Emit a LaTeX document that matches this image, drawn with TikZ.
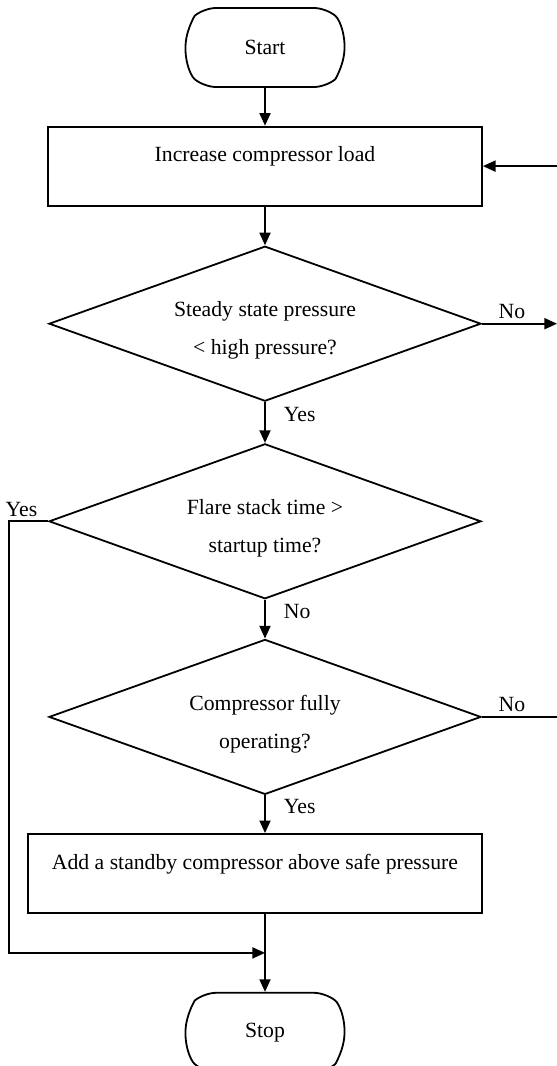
\documentclass[tikz,border=0pt]{standalone}
\usepackage{fontspec}
\setmainfont{Liberation Serif}
\usepackage{tikz}
\usetikzlibrary{shapes,arrows.meta,positioning}

% pushes the two lines of a decision a little down
\newcommand{\dstrut}{\rule{0pt}{14.5pt}}

\begin{document}
\begin{tikzpicture}[
    every node/.style={font=\fontsize{10.85}{19}\selectfont},
    term/.style={rounded rectangle, rounded rectangle arc length=100, draw,
                 rounded corners=6pt, line width=0.9pt, minimum width=79.5pt,
                 minimum height=39.5pt, inner sep=0pt},
    process/.style={rectangle, draw, line width=0.9pt, minimum height=39.5pt,
                    inner sep=0pt, text height=7.5pt, text depth=12pt},
    decision/.style={diamond, draw, line width=0.9pt, aspect=2.8,
                     minimum width=216pt, minimum height=77.5pt,
                     inner sep=0pt, align=center},
    arrow/.style={->, line width=0.9pt, >={Triangle[length=6.3pt,width=5.5pt]}},
    line/.style={line width=0.9pt},
    lbl/.style={inner sep=2pt},
    node distance=19.4pt
]
\useasboundingbox (0,0) rectangle (278.5pt,-533pt);
\clip (0,0) rectangle (278.5pt,-533pt);

\node[term] (start) at (132.5pt,-23.75pt) {Start};
\node[process, minimum width=217pt, below=18.9pt of start] (load)
  {Increase compressor load};
\node[decision, below=of load] (steady)
  {\dstrut Steady state pressure\\< high pressure?};
\node[decision, below=20.4pt of steady] (flare)
  {\dstrut Flare stack time >\\startup time?};
\node[decision, below=of flare] (full) {\dstrut Compressor fully\\operating?};
\node[process, minimum width=227pt, below=18.9pt of full, xshift=-5pt] (standby)
  {Add a standby compressor above safe pressure};
\node[term, below=39pt of standby, xshift=5pt] (stop) {Stop};

% loose ends run off the page edges
\coordinate (redge) at (278.5pt,0);
\coordinate (ledge) at (4.5pt,0);
\coordinate[above=19.5pt of stop] (merge);

\draw[arrow] (start) -- (load);
\draw[arrow] (load) -- (steady);
\draw[arrow] (steady) -- node[lbl, right=7pt, pos=0.3] {Yes} (flare);
\draw[arrow] (flare) -- node[lbl, right=7pt, pos=0.3] {No} (full);
\draw[arrow] (full) -- node[lbl, right=7pt, pos=0.3] {Yes} (full.south |- standby.north);
\draw[arrow] (standby.south -| stop.north) -- (stop);

\draw[arrow] (steady.east) -- node[lbl, above, pos=0.4] {No} (steady.east -| redge);
\draw[line] (full.east) -- node[lbl, above, pos=0.4] {No} (full.east -| redge);
\draw[arrow] (load.east -| redge) -- (load.east);
\draw[arrow] (flare.west) -- node[lbl, above, pos=0.68] {Yes} (flare.west -| ledge)
  |- (merge);
\end{tikzpicture}
\end{document}
